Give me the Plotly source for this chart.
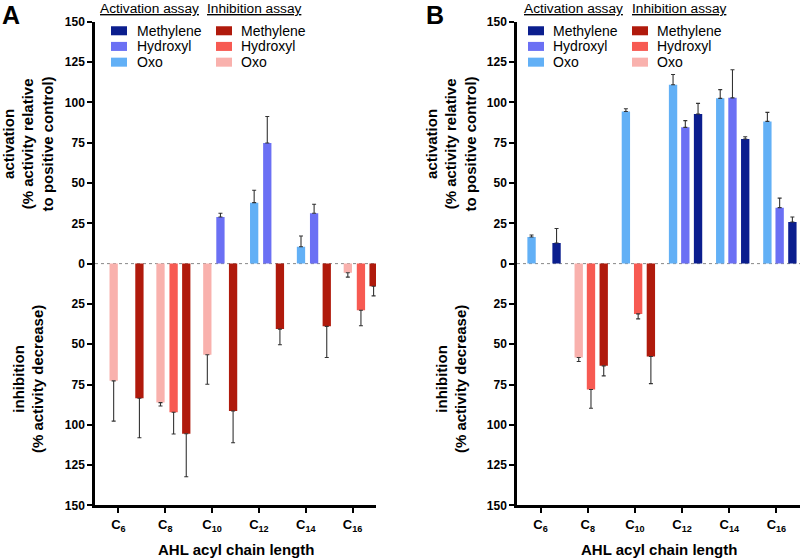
import plotly.graph_objects as go
from plotly.subplots import make_subplots

# ---------------- data ----------------
categories = ["C6", "C8", "C10", "C12", "C14", "C16"]
tick_labels = ["C<sub>6</sub>", "C<sub>8</sub>", "C<sub>10</sub>",
               "C<sub>12</sub>", "C<sub>14</sub>", "C<sub>16</sub>"]
y_ticks = [-150, -125, -100, -75, -50, -25, 0, 25, 50, 75, 100, 125, 150]
y_tick_labels = ["150", "125", "100", "75", "50", "25", "0", "25", "50", "75", "100", "125", "150"]

# Panel A - activation assay (% activity relative to positive control)
A_act_methylene = [None, None, None, None, None, None]
A_act_methylene_err = [None, None, None, None, None, None]
A_act_hydroxyl = [None, None, 28.9, 74.8, 31.2, None]
A_act_hydroxyl_err = [None, None, 2.3, 16.4, 5.6, None]
A_act_oxo = [None, None, None, 37.8, 10.5, None]
A_act_oxo_err = [None, None, None, 7.7, 6.6, None]
# Panel A - inhibition assay (% activity decrease)
A_inh_methylene = [83.5, 105.5, 91.4, 40.6, 38.9, 14.0]
A_inh_methylene_err = [24.5, 26.7, 19.7, 9.7, 19.3, 6.0]
A_inh_hydroxyl = [None, 92.2, None, None, None, 28.9]
A_inh_hydroxyl_err = [None, 13.5, None, None, None, 9.6]
A_inh_oxo = [72.7, 86.2, 56.5, None, None, 5.7]
A_inh_oxo_err = [25.0, 2.1, 18.3, None, None, 2.7]

# Panel B - activation assay
B_act_methylene = [12.8, None, None, 92.8, 77.3, 25.8]
B_act_methylene_err = [9.0, None, None, 6.6, 1.4, 3.1]
B_act_hydroxyl = [None, None, None, 84.5, 102.8, 34.7]
B_act_hydroxyl_err = [None, None, None, 4.2, 17.4, 5.9]
B_act_oxo = [16.5, None, 94.3, 110.9, 102.5, 88.2]
B_act_oxo_err = [1.2, None, 1.7, 6.4, 5.4, 5.6]
# Panel B - inhibition assay
B_inh_methylene = [None, 63.4, 57.6, None, None, None]
B_inh_methylene_err = [None, 6.2, 16.8, None, None, None]
B_inh_hydroxyl = [None, 78.1, 31.2, None, None, None]
B_inh_hydroxyl_err = [None, 11.6, 3.1, None, None, None]
B_inh_oxo = [None, 58.2, None, None, None, None]
B_inh_oxo_err = [None, 2.5, None, None, None, None]

# ---------------- styles ----------------
FONT = "Liberation Sans, Arial, Helvetica, sans-serif"
COL = {
    ("act", "Methylene"): "#0b1e8e",
    ("act", "Hydroxyl"): "#6b70f4",
    ("act", "Oxo"): "#62b0f6",
    ("inh", "Methylene"): "#b01a0c",
    ("inh", "Hydroxyl"): "#f75a52",
    ("inh", "Oxo"): "#f9b1ad",
}
BAR_W = 0.177
OFFSETS = {
    1: {"Oxo": -0.19, "Hydroxyl": 0.09, "Methylene": 0.36},
    2: {"Oxo": -0.28, "Hydroxyl": -0.02, "Methylene": 0.25},
}
W, H = 800, 558
V_OFF, V_SCALE = 7.0, 0.972   # compensation for observed vertical rendering


def px(x):
    return x / W


def py(y):
    return 1 - ((y - V_OFF) / V_SCALE) / H


fig = make_subplots(rows=1, cols=2)

panels = {
    1: {
        ("act", "Methylene"): (A_act_methylene, A_act_methylene_err),
        ("act", "Hydroxyl"): (A_act_hydroxyl, A_act_hydroxyl_err),
        ("act", "Oxo"): (A_act_oxo, A_act_oxo_err),
        ("inh", "Methylene"): (A_inh_methylene, A_inh_methylene_err),
        ("inh", "Hydroxyl"): (A_inh_hydroxyl, A_inh_hydroxyl_err),
        ("inh", "Oxo"): (A_inh_oxo, A_inh_oxo_err),
    },
    2: {
        ("act", "Methylene"): (B_act_methylene, B_act_methylene_err),
        ("act", "Hydroxyl"): (B_act_hydroxyl, B_act_hydroxyl_err),
        ("act", "Oxo"): (B_act_oxo, B_act_oxo_err),
        ("inh", "Methylene"): (B_inh_methylene, B_inh_methylene_err),
        ("inh", "Hydroxyl"): (B_inh_hydroxyl, B_inh_hydroxyl_err),
        ("inh", "Oxo"): (B_inh_oxo, B_inh_oxo_err),
    },
}

for col, series in panels.items():
    for (assay, kind), (vals, errs) in series.items():
        if assay == "act":
            y = [v if v is not None else None for v in vals]
            plus = [e if e is not None else 0 for e in errs]
            minus = [0] * len(errs)
        else:
            y = [-v if v is not None else None for v in vals]
            minus = [e if e is not None else 0 for e in errs]
            plus = [0] * len(errs)
        fig.add_trace(
            go.Bar(
                x=categories, y=y,
                name=f"{kind} ({assay})",
                marker=dict(color=COL[(assay, kind)], line=dict(width=0)),
                width=BAR_W, offset=OFFSETS[col][kind],
                error_y=dict(type="data", symmetric=False, array=plus, arrayminus=minus,
                             color="#333333", thickness=1.1, width=2),
                showlegend=False,
            ),
            row=1, col=col,
        )

domains = {1: (95, 376), 2: (517, 800)}
ydom = [py(504), py(21.7)]
for col in (1, 2):
    xa = "xaxis" if col == 1 else "xaxis2"
    ya = "yaxis" if col == 1 else "yaxis2"
    fig.layout[xa].update(
        domain=[px(domains[col][0]), px(domains[col][1])],
        type="category", categoryorder="array", categoryarray=categories,
        range=[-0.5, 5.5], tickmode="array", tickvals=categories, ticktext=tick_labels,
        showline=True, linecolor="black", linewidth=2.5, ticks="outside", ticklen=5,
        tickwidth=2, tickcolor="black", showgrid=False, zeroline=False,
        tickfont=dict(family=FONT, size=13, color="black", weight="bold"),
        anchor="y" if col == 1 else "y2",
    )
    fig.layout[ya].update(
        domain=ydom, range=[-150, 150], tickmode="array", tickvals=y_ticks,
        ticktext=y_tick_labels, showline=True, linecolor="black", linewidth=2.5,
        ticks="outside", ticklen=5, tickwidth=2, tickcolor="black",
        showgrid=False, zeroline=False,
        tickfont=dict(family=FONT, size=12, color="black", weight="bold"),
        anchor="x" if col == 1 else "x2",
    )
    # dotted zero line
    fig.add_shape(type="line", xref=("x domain" if col == 1 else "x2 domain"),
                  yref=("y" if col == 1 else "y2"), x0=0, x1=1, y0=0, y1=0,
                  line=dict(color="#888888", width=1, dash="dot"), layer="below")

annotations = []
shapes_extra = []


def text(x, y, s, size=14, bold=False, xanchor="left", angle=0, align="left"):
    annotations.append(dict(
        x=px(x), y=py(y), xref="paper", yref="paper", text=s, showarrow=False,
        xanchor=xanchor, yanchor="middle", textangle=angle, align=align,
        font=dict(family=FONT, size=size, color="black", weight="bold" if bold else "normal"),
    ))


# panel letters
text(0, 15, "A", size=25, bold=True)
text(424, 15, "B", size=25, bold=True)

# y-axis titles
for cx in (28, 451):
    text(cx, 144, "activation<br>(% activity relative<br>to positive control)", size=15,
         bold=True, xanchor="center", angle=-90, align="center")
    text(cx, 378, "inhibition<br>(% activity decrease)", size=15,
         bold=True, xanchor="center", angle=-90, align="center")
# x-axis titles
text(235.5, 548, "AHL acyl chain length", size=15, bold=True, xanchor="center")
text(658.5, 548, "AHL acyl chain length", size=15, bold=True, xanchor="center")

# custom legends
legend_layout = {
    1: {"hdr": (149.5, 255), "sw": (111, 216), "tx": (135, 239)},
    2: {"hdr": (573.5, 679.5), "sw": (528, 632), "tx": (551, 655)},
}
rows_y = {"Methylene": 30.7, "Hydroxyl": 46.3, "Oxo": 62}
for col, L in legend_layout.items():
    text(L["hdr"][0], 8.5, "<u>Activation assay</u>", size=13.7, xanchor="center")
    text(L["hdr"][1], 8.5, "<u>Inhibition assay</u>", size=13.7, xanchor="center")
    for i, assay in enumerate(("act", "inh")):
        for kind, yy in rows_y.items():
            shapes_extra.append(dict(
                type="rect", xref="paper", yref="paper",
                x0=px(L["sw"][i]), x1=px(L["sw"][i] + 16),
                y0=py(yy + 4.5), y1=py(yy - 4.5),
                fillcolor=COL[(assay, kind)], line=dict(width=0),
            ))
            text(L["tx"][i], yy, kind, size=14)

for s in shapes_extra:
    fig.add_shape(**s)
fig.update_layout(
    annotations=annotations,
    width=W, height=H, margin=dict(l=0, r=0, t=0, b=0),
    paper_bgcolor="white", plot_bgcolor="white",
    barmode="overlay", showlegend=False,
    font=dict(family=FONT, color="black"),
)

fig.write_html(
    "out.html",
    config={"displayModeBar": False},
    post_script="document.documentElement.style.margin='0';document.documentElement.style.overflow='hidden';"
                "document.body.style.margin='0';document.body.style.overflow='hidden';",
)
